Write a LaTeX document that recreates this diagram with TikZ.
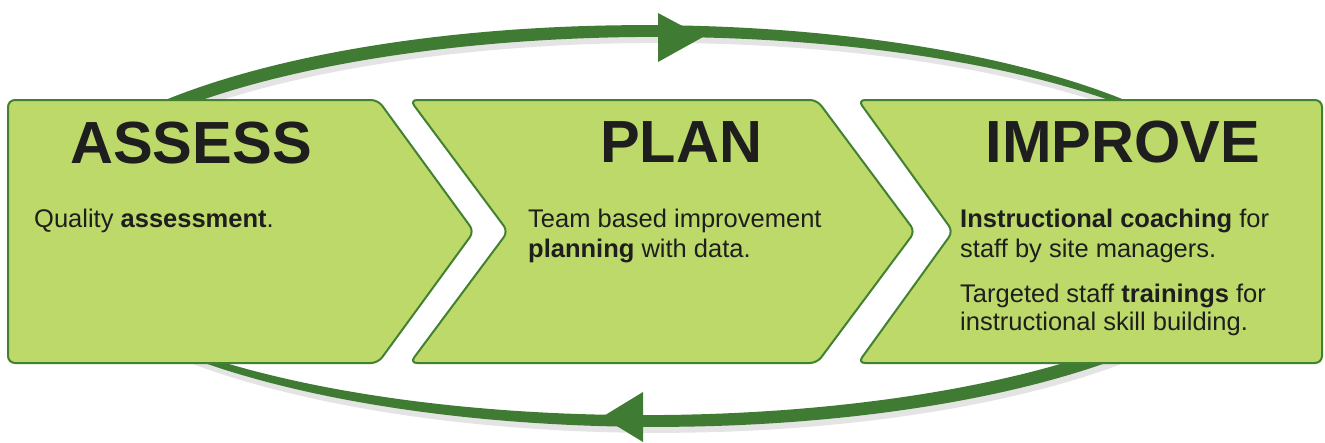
\documentclass[tikz,border=0pt]{standalone}
\usepackage{fontspec}
\setmainfont{Liberation Sans}
\definecolor{boxfill}{RGB}{189,217,106}
\definecolor{boxline}{RGB}{66,128,50}
\definecolor{arrowgreen}{RGB}{64,123,52}
\definecolor{ink}{RGB}{30,30,30}
\newcommand\mytopband{plot[domain=145:35,samples=90,variable=\t] ({650+(612+wt(\t)/2)*cos(\t)},{226-(195+wt(\t)/2)*sin(\t)}) -- plot[domain=35:145,samples=90,variable=\t] ({650+(612-wt(\t)/2)*cos(\t)},{226-(195-wt(\t)/2)*sin(\t)}) -- cycle}
\newcommand\mybotband{plot[domain=215:325,samples=90,variable=\t] ({650+(612+wb(\t)/2)*cos(\t)},{226-(195+wb(\t)/2)*sin(\t)}) -- plot[domain=325:215,samples=90,variable=\t] ({650+(612-wb(\t)/2)*cos(\t)},{226-(195-wb(\t)/2)*sin(\t)}) -- cycle}
\begin{document}
\begin{tikzpicture}[x=1pt,y=-1pt,
  stagebox/.style={fill=boxfill,draw=boxline,line width=2pt,rounded corners=7pt},
  title/.style={font=\fontsize{59.5}{59.5}\selectfont\bfseries,text=ink,inner sep=0pt,anchor=base},
  body/.style={font=\fontsize{25.5}{30}\selectfont,text=ink,inner sep=0pt,anchor=base west},
  shade/.style={fill=black!30,opacity=0.35},
  declare function={wt(\t)=4+11*sqrt(max(0,(\t-35)/110)); wb(\t)=4+11*sqrt(max(0,(\t-215)/110));}
]
\useasboundingbox (0,0) rectangle (1325,442);
\fill[white] (0,0) rectangle (1325,442);
% soft shadows of the cycle arrow
\begin{scope}[shift={(2,6)}]
  \fill[shade] \mytopband;
  \fill[shade] \mybotband;
\end{scope}
% cycle arrow bands
\fill[arrowgreen] \mytopband;
\fill[arrowgreen] \mybotband;
% arrow heads
\fill[arrowgreen] (658,13) -- (703,37) -- (658,62) -- cycle;
\fill[arrowgreen] (643,392) -- (602,417) -- (643,442) -- cycle;
% stage boxes
\path[stagebox] (8,100) -- (378,100) -- (474,231.5) -- (378,363) -- (8,363) -- cycle;
\path[stagebox] (410,100) -- (817,100) -- (915,231.5) -- (817,363) -- (410,363) -- (508,231.5) -- cycle;
\path[stagebox] (858,100) -- (1322,100) -- (1322,363) -- (858,363) -- (953,231.5) -- cycle;
% titles
\node[title] (tassess) at (191,163) {ASSESS};
\node[title] (tplan) at (681,162) {PLAN};
\node[title] (timprove) at (1123,162) {IMPROVE};
% body texts
\node[body] (a1) at (34,227) {Quality \textbf{assessment}.};
\node[body] (p1) at (528,227) {Team based improvement};
\node[body] (p2) at (528,257) {\textbf{planning} with data.};
\node[body] (i1) at (960,227) {\textbf{Instructional coaching} for};
\node[body] (i2) at (960,257) {staff by site managers.};
\node[body] (i3) at (960,302) {Targeted staff \textbf{trainings} for};
\node[body] (i4) at (960,330) {instructional skill building.};
\end{tikzpicture}
\end{document}
